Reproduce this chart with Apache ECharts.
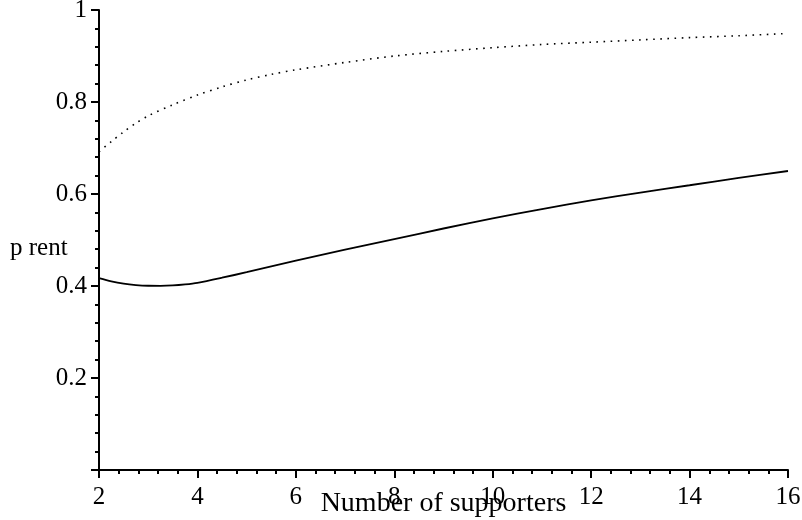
<!DOCTYPE html>
<html>
<head>
<meta charset="utf-8">
<script src="https://cdn.jsdelivr.net/npm/echarts@6/dist/echarts.min.js"></script>
<style>html,body{margin:0;padding:0;background:#fff}#c{width:802px;height:520px}</style>
</head>
<body>
<div id="c"></div>
<script>
var xTitle = 'Number of supporters';
var yTitle = 'p rent';
var solidX = [2, 2.25, 2.5, 2.75, 3, 3.25, 3.5, 3.75, 4, 4.5, 5, 6, 7, 8, 9, 10, 11, 12, 13, 14, 15, 16];
var solidY = [0.417, 0.410, 0.405, 0.402, 0.4005, 0.4003, 0.4012, 0.4035, 0.407, 0.418, 0.430, 0.455, 0.479, 0.502, 0.525, 0.547, 0.567, 0.586, 0.603, 0.619, 0.635, 0.650];
var dotX = [2, 2.25, 2.5, 2.75, 3, 3.5, 4, 4.5, 5, 5.5, 6, 7, 8, 9, 10, 11, 12, 13, 14, 15, 16];
var dotY = [0.692, 0.714, 0.735, 0.754, 0.770, 0.794, 0.815, 0.833, 0.848, 0.860, 0.870, 0.886, 0.900, 0.910, 0.918, 0.925, 0.930, 0.935, 0.940, 0.944, 0.949];

function pairs(xs, ys) { return xs.map(function (x, i) { return [x, ys[i]]; }); }

var font = 'Liberation Serif';
var chart = echarts.init(document.getElementById('c'), null, {renderer: 'canvas'});
chart.setOption({
  animation: false,
  backgroundColor: '#fff',
  grid: {left: 99, right: 14, top: 10, bottom: 50, containLabel: false, outerBoundsMode: 'none'},
  xAxis: {
    type: 'value', min: 2, max: 16, interval: 2,
    name: xTitle, nameLocation: 'middle', nameGap: 20, nameMoveOverlap: false,
    nameTextStyle: {fontFamily: font, fontSize: 28, color: '#000', verticalAlign: 'top'},
    axisLine: {show: true, onZero: false, lineStyle: {color: '#000', width: 2}},
    axisTick: {show: true, length: 8, lineStyle: {color: '#000', width: 2}},
    minorTick: {show: true, splitNumber: 5, length: 4, lineStyle: {color: '#000', width: 2}},
    axisLabel: {fontFamily: font, fontSize: 25, color: '#000', margin: 15},
    splitLine: {show: false}
  },
  yAxis: {
    type: 'value', min: 0, max: 1, interval: 0.2,
    axisLine: {show: true, onZero: false, lineStyle: {color: '#000', width: 2}},
    axisTick: {show: true, length: 8, lineStyle: {color: '#000', width: 2}},
    minorTick: {show: true, splitNumber: 5, length: 4, lineStyle: {color: '#000', width: 2}},
    axisLabel: {
      fontFamily: font, fontSize: 25, color: '#000', margin: 12,
      formatter: function (v) { if (v === 0) return ''; if (v === 1) return '1'; return v.toFixed(1); }
    },
    splitLine: {show: false}
  },
  graphic: [{
    type: 'text', left: 10, top: 236,
    style: {text: yTitle, font: '25px "Liberation Serif"', fill: '#000'}
  }],
  series: [
    {
      type: 'line', data: pairs(solidX, solidY), smooth: 0.3, showSymbol: false,
      lineStyle: {color: '#000', width: 1.8}
    },
    {
      type: 'line', data: pairs(dotX, dotY), smooth: 0.3, showSymbol: false,
      lineStyle: {color: '#000', width: 1.6, type: [1.6, 5.5]}
    }
  ]
});
</script>
</body>
</html>
